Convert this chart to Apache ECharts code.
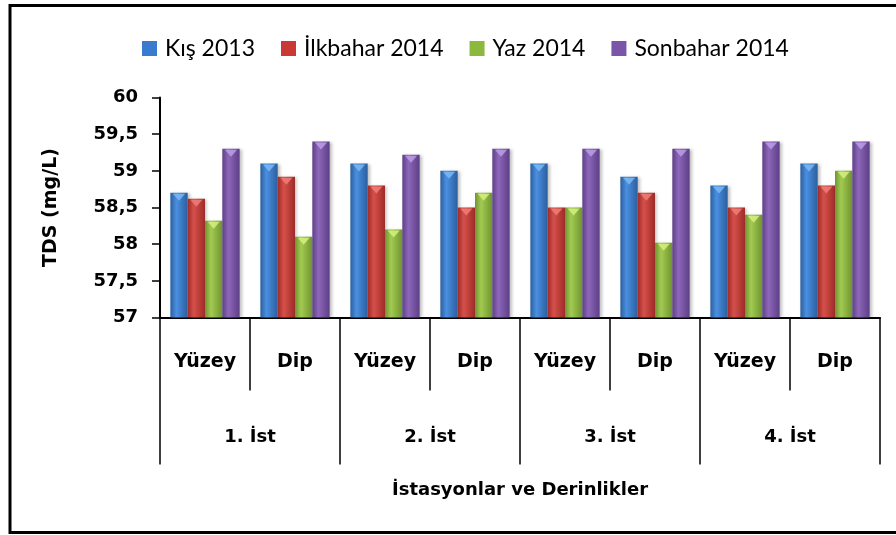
<!DOCTYPE html>
<html>
<head>
<meta charset="utf-8">
<script src="https://cdn.jsdelivr.net/npm/echarts@6/dist/echarts.min.js"></script>
<style>
  html, body { margin: 0; padding: 0; background: #fff; }
  #chart { width: 896px; height: 535px; }
</style>
</head>
<body>
<div id="chart"></div>
<script>
// categories
const depths = ["Yüzey", "Dip", "Yüzey", "Dip", "Yüzey", "Dip", "Yüzey", "Dip"];
const stations = ["1. İst", "2. İst", "3. İst", "4. İst"];
const yTicks = [57, 57.5, 58, 58.5, 59, 59.5, 60];

// TDS values (mg/L)
const kis2013 = [58.7, 59.1, 59.1, 59.0, 59.1, 58.92, 58.8, 59.1];
const ilkbahar2014 = [58.62, 58.92, 58.8, 58.5, 58.5, 58.7, 58.5, 58.8];
const yaz2014 = [58.32, 58.1, 58.2, 58.7, 58.5, 58.02, 58.4, 59.0];
const sonbahar2014 = [59.3, 59.4, 59.22, 59.3, 59.3, 59.3, 59.4, 59.4];

const labelFont = "'DejaVu Sans', sans-serif";
const legendFont = "Lato, sans-serif";

function barColor(dark, light) {
  return new echarts.graphic.LinearGradient(0, 0, 1, 0, [
    { offset: 0, color: dark },
    { offset: 0.35, color: light },
    { offset: 1, color: dark }
  ]);
}

function makeSeries(name, data, dark, light) {
  return {
    name: name,
    type: "bar",
    data: data,
    barGap: "0%",
    barCategoryGap: "23%",
    itemStyle: {
      color: barColor(dark, light),
      shadowColor: "rgba(0,0,0,0.25)",
      shadowBlur: 3,
      shadowOffsetX: 2
    }
  };
}

// lighter triangle on top of each bar (the 3D cap)
function makeCap(name, data, color) {
  return {
    name: name,
    type: "pictorialBar",
    data: data,
    barGap: "0%",
    barCategoryGap: "23%",
    symbol: "triangle",
    symbolRotate: 180,
    symbolPosition: "end",
    symbolSize: ["70%", 7],
    symbolOffset: [0, 1],
    silent: true,
    itemStyle: { color: color, opacity: 0.85 },
    z: 3
  };
}

const myChart = echarts.init(document.getElementById("chart"));

const option = {
  animation: false,
  backgroundColor: "#fff",
  legend: {
    top: 32,
    left: 137,
    itemWidth: 15,
    itemHeight: 15,
    itemGap: 26,
    icon: "rect",
    textStyle: { fontFamily: legendFont, fontSize: 23, color: "#000", padding: [0, 0, 0, 3] },
    data: [
      { name: "Kış 2013", itemStyle: { color: "#3a7bd0" } },
      { name: "İlkbahar 2014", itemStyle: { color: "#c93a36" } },
      { name: "Yaz 2014", itemStyle: { color: "#8db83e" } },
      { name: "Sonbahar 2014", itemStyle: { color: "#7b55a8" } }
    ]
  },
  grid: {
    left: 160,
    right: 16,
    top: 97.5,
    bottom: 217.5
  },
  xAxis: [
    {
      type: "category",
      data: depths,
      position: "bottom",
      axisLine: { lineStyle: { color: "#000", width: 2 } },
      axisTick: { show: true, interval: 0, length: 73, lineStyle: { color: "#000", width: 1.5 } },
      axisLabel: {
        interval: 0,
        margin: 35,
        fontFamily: labelFont,
        fontSize: 19,
        fontWeight: "bold",
        color: "#000"
      },
      name: "İstasyonlar ve Derinlikler",
      nameLocation: "middle",
      nameGap: 164,
      nameTextStyle: { fontFamily: labelFont, fontSize: 18, fontWeight: "bold", color: "#000" }
    },
    {
      type: "category",
      data: stations,
      position: "bottom",
      axisLine: { show: false },
      axisTick: { show: true, interval: 0, length: 147, lineStyle: { color: "#000", width: 1.5 } },
      axisLabel: {
        interval: 0,
        margin: 111,
        fontFamily: labelFont,
        fontSize: 18,
        fontWeight: "bold",
        color: "#000"
      }
    }
  ],
  yAxis: {
    type: "value",
    min: yTicks[0],
    max: yTicks[yTicks.length - 1],
    interval: 0.5,
    axisLine: { show: true, lineStyle: { color: "#000", width: 2 } },
    axisTick: { show: true, length: 8, lineStyle: { color: "#000", width: 1.5 } },
    splitLine: { show: false },
    axisLabel: {
      margin: 22,
      fontFamily: labelFont,
      fontSize: 18,
      fontWeight: "bold",
      color: "#000",
      formatter: function (v) { return String(v).replace(".", ","); }
    },
    name: "TDS (mg/L)",
    nameLocation: "middle",
    nameGap: 99,
    nameRotate: 90,
    nameTextStyle: { fontFamily: labelFont, fontSize: 19, fontWeight: "bold", color: "#000" }
  },
  graphic: [
    {
      type: "rect",
      shape: { x: 10, y: 5.5, width: 900, height: 527 },
      style: { fill: null, stroke: "#000", lineWidth: 3 },
      silent: true
    }
  ],
  series: [
    makeSeries("Kış 2013", kis2013, "#2b5f9f", "#4a8fe0"),
    makeSeries("İlkbahar 2014", ilkbahar2014, "#9e2b28", "#d6504a"),
    makeSeries("Yaz 2014", yaz2014, "#6f9430", "#a2cb52"),
    makeSeries("Sonbahar 2014", sonbahar2014, "#5d3f86", "#8d67ba"),
    makeCap("cap-kis", kis2013, "#7db9f2"),
    makeCap("cap-ilkbahar", ilkbahar2014, "#f07f79"),
    makeCap("cap-yaz", yaz2014, "#d6f07e"),
    makeCap("cap-sonbahar", sonbahar2014, "#bb9ee8")
  ]
};

myChart.setOption(option);
</script>
</body>
</html>
